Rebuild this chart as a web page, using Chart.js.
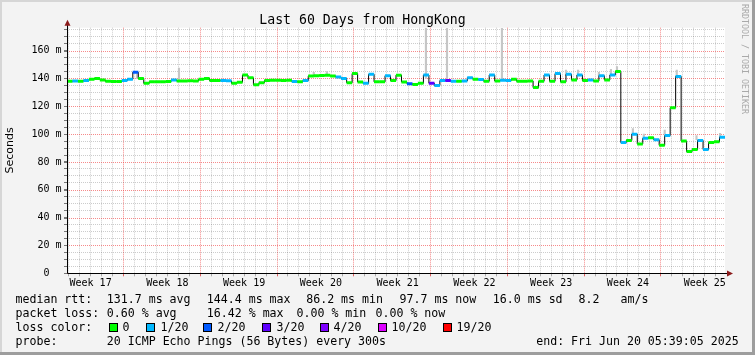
<!DOCTYPE html>
<html>
<head>
<meta charset="utf-8">
<script src="https://cdn.jsdelivr.net/npm/chart.js@4/dist/chart.umd.min.js"></script>
<style>
  html, body { margin: 0; padding: 0; background: #f3f3f3; }
  #wrap { position: relative; width: 755px; height: 355px; overflow: hidden; }
  #pingChart { position: absolute; left: 0; top: 0; }
  .txt { position: absolute; font-family: "DejaVu Sans Mono", monospace; font-size: 11.6px;
         line-height: 14px; height: 14px; white-space: pre; color: #000; }
  .box { position: absolute; width: 9px; height: 9px; box-sizing: border-box; border: 1px solid #000; }
  #credit { position: absolute; left: 740px; top: 4px; writing-mode: vertical-rl;
            font-family: "DejaVu Sans Mono", monospace; font-size: 8.3px; color: #a9a9a9; white-space: pre; }
</style>
</head>
<body>
<div id="wrap">
  <canvas id="pingChart" width="755" height="355"></canvas>
  <div id="credit">RRDTOOL / TOBI OETIKER</div>
  <div id="legend"></div>
</div>
<script>
// median rtt (ms), one value every 12 hours
const median = [
  138, 138.2, 138, 138.5, 139.5, 140, 139, 138, 137.8, 137.8,
  138.5, 139.5, 144.5, 140, 136.5, 137.6, 137.6, 137.6, 137.8, 139,
  138.2, 138.2, 138.3, 138.2, 139.5, 140, 138.5, 138.5, 138.5, 138.3,
  136.5, 137.3, 142.5, 140.5, 135.5, 137, 138.5, 138.7, 138.8, 138.6,
  138.7, 137.8, 137.6, 138.5, 141.8, 142, 142.2, 142.3, 141.8, 141,
  140, 137, 143.5, 137.5, 136.5, 143, 137.6, 137.6, 142, 138.5,
  142.4, 137.5, 136.3, 135.7, 136.5, 142.5, 136.6, 135, 138.5, 138.5,
  138, 138, 138.2, 140.5, 139.5, 139.3, 138, 142.5, 138.2, 138.8,
  138.5, 139.5, 138, 138, 138.2, 133.5, 138, 142.5, 138, 143.5,
  137.6, 143, 139, 142.5, 138.5, 139, 138.2, 142, 139, 142.5,
  145, 94, 95.5, 100, 93, 97, 97.5, 96, 92, 99,
  119, 141.5, 95, 87.5, 89, 95.5, 89, 94, 94.5, 97.8
];
// loss level per sample: index into lossColors
const loss = [
  0, 1, 0, 1, 0, 0, 0, 0, 0, 0,
  1, 1, 2, 0, 0, 0, 0, 0, 0, 1,
  0, 0, 0, 0, 0, 0, 0, 0, 1, 1,
  0, 0, 0, 0, 0, 0, 0, 0, 0, 0,
  0, 1, 0, 1, 0, 0, 0, 0, 0, 1,
  1, 0, 0, 0, 1, 1, 0, 0, 1, 0,
  0, 0, 2, 0, 0, 1, 3, 1, 1, 3,
  1, 0, 1, 1, 0, 1, 0, 1, 0, 1,
  1, 0, 0, 0, 0, 0, 0, 1, 0, 1,
  0, 1, 0, 1, 0, 1, 0, 1, 0, 1,
  0, 1, 0, 1, 0, 1, 0, 1, 0, 1,
  0, 1, 0, 0, 0, 1, 1, 0, 0, 1
];
const lossLabels = ["0", "1/20", "2/20", "3/20", "4/20", "10/20", "19/20"];
const lossColors = ["#00ff00", "#00b8ff", "#0059ff", "#5e00ff", "#7e00ff", "#dd00ff", "#ff0000"];

// visible smoke spikes (day from left edge, low, high)
const smokeDay  = [6.38, 10.21, 22.5, 23.7, 32.73, 34.65, 39.66, 45.5, 46.6, 48.5, 49.6, 50.15, 51.6, 52.6, 54.5, 55.6, 57.4, 59.55];
const smokeLow  = [140, 139, 142, 142, 140, 139, 139, 142, 142, 142, 142, 144, 100, 97, 100, 142, 96, 98];
const smokeHigh = [143.5, 147.4, 144.5, 145, 176, 176, 176, 146, 146, 144.5, 146.5, 148.5, 104, 100, 103, 146, 99, 100.5];

const weekLabels = ["Week 17", "Week 18", "Week 19", "Week 20", "Week 21", "Week 22", "Week 23", "Week 24", "Week 25"];
const yLabelValues = [0, 20, 40, 60, 80, 100, 120, 140, 160];
const yLabels = ["0  ", "20 m", "40 m", "60 m", "80 m", "100 m", "120 m", "140 m", "160 m"];

const firstWeek = 5.65; // first week boundary, days from left edge
const dayLines = [];
for (let d = firstWeek - 5; d < 60; d += 1) dayLines.push(d);
const weekMids = weekLabels.map((w, i) => firstWeek - 3.5 + 7 * i);
const yLines = [];
for (let v = 0; v <= 175; v += 5) if (v % 20 !== 0) yLines.push(v);

const majorGrid = "rgba(240, 60, 60, 0.6)";
const minorGrid = "rgba(0, 0, 0, 0.2)";
function isWeek(v) {
  const r = (((v - firstWeek) % 7) + 7) % 7;
  return r < 0.01 || r > 6.99;
}
const xGridColor = c => (c.tick && isWeek(c.tick.value)) ? majorGrid : minorGrid;
const xTickColor = c => (c.tick && isWeek(c.tick.value)) ? "#e06060" : "#aaaaaa";

const points = median.map((v, i) => ({ x: i * 0.5 + 0.25, y: v }));

const frame = {
  id: "frame",
  beforeDraw(chart) {
    const { ctx, chartArea: a, width, height } = chart;
    ctx.save();
    ctx.fillStyle = "#f3f3f3";
    ctx.fillRect(0, 0, width, height);
    ctx.fillStyle = "#ffffff";
    ctx.fillRect(a.left, a.top, a.right - a.left, a.bottom - a.top);
    ctx.fillStyle = "#d6d6d6";
    ctx.fillRect(0, 0, width, 2);
    ctx.fillRect(0, 0, 2, height);
    ctx.fillStyle = "#9d9d9d";
    ctx.fillRect(width - 3, 0, 3, height);
    ctx.fillRect(0, height - 3, width, 3);
    ctx.restore();
  },
  beforeDatasetsDraw(chart) {
    // major horizontal grid + labels' tick marks, at the labelled values
    const { ctx, chartArea: a, scales } = chart;
    ctx.save();
    ctx.lineWidth = 1;
    yLabelValues.forEach(v => {
      const y = Math.round(scales.y.getPixelForValue(v)) + 0.5;
      ctx.setLineDash([1, 1]);
      ctx.strokeStyle = majorGrid;
      ctx.beginPath();
      ctx.moveTo(a.left, y);
      ctx.lineTo(a.right, y);
      ctx.stroke();
      ctx.setLineDash([]);
      ctx.strokeStyle = "#777";
      ctx.beginPath();
      ctx.moveTo(a.left - 3, y);
      ctx.lineTo(a.left, y);
      ctx.stroke();
    });
    ctx.restore();
  },
  afterDraw(chart) {
    const { ctx, chartArea: a } = chart;
    const x0 = Math.round(a.left) + 0.5;
    const y0 = Math.round(a.bottom) + 0.5;
    ctx.save();
    ctx.strokeStyle = "#000";
    ctx.lineWidth = 1;
    ctx.beginPath();
    ctx.moveTo(x0, y0);
    ctx.lineTo(x0, a.top - 4);
    ctx.moveTo(x0, y0);
    ctx.lineTo(a.right + 5, y0);
    ctx.stroke();
    ctx.fillStyle = "#8b1a1a";
    ctx.beginPath();
    ctx.moveTo(x0 - 3, a.top - 2);
    ctx.lineTo(x0 + 3, a.top - 2);
    ctx.lineTo(x0, a.top - 8);
    ctx.closePath();
    ctx.fill();
    ctx.beginPath();
    ctx.moveTo(a.right + 2, y0 - 3);
    ctx.lineTo(a.right + 2, y0 + 3);
    ctx.lineTo(a.right + 8, y0);
    ctx.closePath();
    ctx.fill();
    ctx.restore();
  }
};

Chart.defaults.font.family = "'DejaVu Sans Mono', monospace";
Chart.defaults.color = "#000";

const pingChart = new Chart(document.getElementById("pingChart"), {
  type: "line",
  data: {
    datasets: [
      {
        label: "loss",
        data: points,
        showLine: false,
        pointStyle: "line",
        pointRadius: 2.8,
        pointBorderWidth: 3,
        pointBorderColor: loss.map(l => lossColors[l]),
        order: 1
      },
      {
        label: "median",
        data: points,
        borderColor: "#000",
        borderWidth: 1,
        pointRadius: 0,
        stepped: "middle",
        order: 2
      },
      {
        type: "bar",
        label: "smoke",
        data: smokeDay.map((d, i) => ({ x: d, y: [smokeLow[i], smokeHigh[i]] })),
        backgroundColor: "#c6c6c6",
        barThickness: 1.5,
        grouped: false,
        order: 3
      }
    ]
  },
  options: {
    responsive: false,
    animation: false,
    events: [],
    layout: { padding: { left: 0, right: 30, top: 0, bottom: 0 } },
    plugins: {
      legend: { display: false },
      tooltip: { enabled: false },
      title: {
        display: true,
        text: "Last 60 Days from HongKong",
        color: "#000",
        font: { size: 13.2, weight: "normal", lineHeight: 1 },
        padding: { top: 13.5, bottom: 1 }
      }
    },
    scales: {
      x: {
        type: "linear", position: "bottom", min: 0, max: 60, offset: false, weight: 0,
        afterBuildTicks: s => { s.ticks = dayLines.map(v => ({ value: v })); },
        afterFit: s => { s.height = 4; },
        ticks: { display: false, autoSkip: false },
        grid: { color: xGridColor, tickColor: xTickColor, tickLength: 3 },
        border: { display: false, dash: [1, 1] }
      },
      x2: {
        type: "linear", position: "bottom", min: 0, max: 60, offset: false, weight: 1,
        afterBuildTicks: s => { s.ticks = weekMids.map(v => ({ value: v })); },
        afterFit: s => { s.height = 355 - 273.3 - 4; },
        ticks: {
          autoSkip: false, maxRotation: 0, minRotation: 0, padding: 0,
          font: { size: 10 },
          callback: (v, i) => weekLabels[i]
        },
        grid: { display: false, drawTicks: false },
        border: { display: false }
      },
      y: {
        type: "linear", min: 0, max: 176.5,
        // minor lines from the grid, labelled lines as ticks with the grid hidden
        afterBuildTicks: s => {
          s.ticks = yLines.concat(yLabelValues).sort((p, q) => p - q).map(v => ({ value: v }));
        },
        afterFit: s => { s.width = 67; },
        ticks: {
          autoSkip: false, padding: 2.5,
          font: { size: 10 },
          callback: v => {
            const k = yLabelValues.indexOf(v);
            return k >= 0 ? yLabels[k] : "";
          }
        },
        grid: {
          color: c => (c.tick && yLabelValues.indexOf(c.tick.value) >= 0) ? "rgba(0,0,0,0)" : minorGrid,
          tickColor: "#777",
          tickLength: 3
        },
        border: { display: false, dash: [1, 1] },
        title: {
          display: true, text: "Seconds", color: "#000",
          font: { family: "'DejaVu Sans', sans-serif", size: 11 },
          padding: { top: 4, bottom: 0 }
        }
      }
    }
  },
  plugins: [frame]
});

// text legend below the graph
const legend = document.getElementById("legend");
function put(text, x, yc) {
  const el = document.createElement("div");
  el.className = "txt";
  el.textContent = text;
  el.style.left = x + "px";
  el.style.top = (yc - 7) + "px";
  legend.appendChild(el);
}
const rows = [
  [299.3, [["median rtt:", 15.5], ["131.7 ms avg", 106.8], ["144.4 ms max", 206.8], ["86.2 ms min", 306.2],
           ["97.7 ms now", 399.5], ["16.0 ms sd", 492.8], ["8.2", 578.5], ["am/s", 620.5]]],
  [313.3, [["packet loss:", 15.5], ["0.60 % avg", 106.8], ["16.42 % max", 206.8], ["0.00 % min", 296.5],
           ["0.00 % now", 375.5]]],
  [327.3, [["loss color:", 15.5]]],
  [341.3, [["probe:", 15.5], ["20 ICMP Echo Pings (56 Bytes) every 300s", 106.8],
           ["end: Fri Jun 20 05:39:05 2025", 536.2]]]
];
rows.forEach(([yc, items]) => items.forEach(([t, x]) => put(t, x, yc)));

const boxX = [109, 146, 203, 262, 320, 378, 443];
const labelX = [122.5, 160.5, 217.5, 276.5, 333.5, 391.5, 456.5];
lossLabels.forEach((lab, i) => {
  const b = document.createElement("div");
  b.className = "box";
  b.style.left = boxX[i] + "px";
  b.style.top = "323px";
  b.style.background = lossColors[i];
  legend.appendChild(b);
  put(lab, labelX[i], 327.3);
});
</script>
</body>
</html>
